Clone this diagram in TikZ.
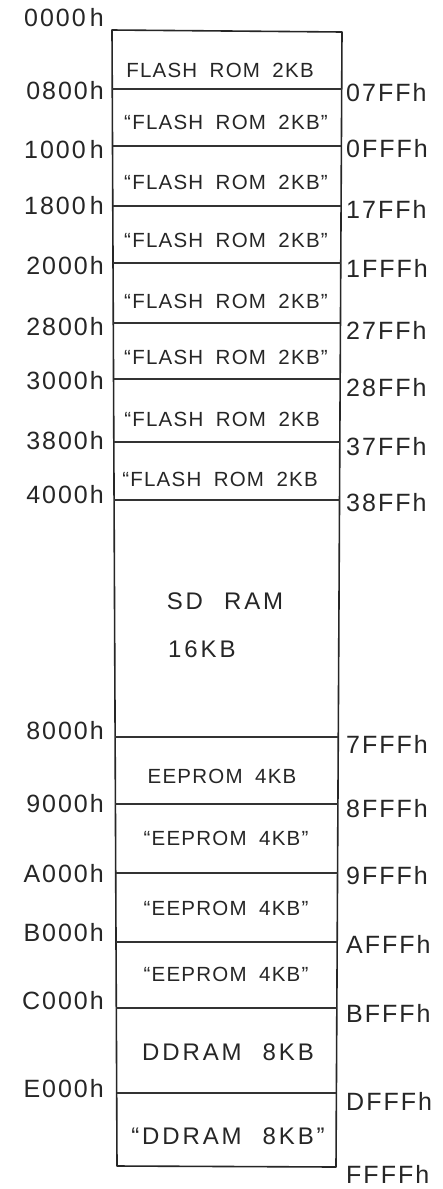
\documentclass[tikz,border=0pt]{standalone}
\usepackage{fontspec}
\setmainfont{Liberation Sans}
\newfontfamily\addrfam[LetterSpace=8]{Liberation Sans}
\newfontfamily\cellfam[LetterSpace=6,WordSpace=1.8]{Liberation Sans}
\newfontfamily\bigfam[LetterSpace=12,WordSpace=2.2]{Liberation Sans}
\begin{document}
\begin{tikzpicture}[x=1pt,y=-1pt,
  mem/.style={line width=1.6pt, draw=black!85, line join=round},
  divline/.style={line width=1.3pt, draw=black!80},
  addrL/.style={anchor=east, inner sep=0pt, font=\addrfam\fontsize{25}{28}\selectfont, text=black!85},
  addrR/.style={anchor=west, inner sep=0pt, font=\addrfam\fontsize{25}{28}\selectfont, text=black!85},
  cell/.style={inner sep=0pt, font=\cellfam\fontsize{20.5}{24}\selectfont, text=black!85},
  bigcell/.style={inner sep=0pt, font=\bigfam\fontsize{24}{28}\selectfont, text=black!85}]
\useasboundingbox (0,0) rectangle (443,1189);
\fill[white] (0,0) rectangle (443,1189);
% outer box
\coordinate (TL) at (112,30);
\coordinate (TR) at (342,32);
\coordinate (BR) at (336,1167);
\coordinate (BL) at (117,1166);
\draw[mem] (TL) -- (TR) -- (BR) -- (BL) -- cycle;
% dividing lines
\foreach \y in {89,146,206,263,323,379,442,500,737,804,873,942,1008,1093}{
  \draw[divline] ({112+(\y-30)*0.0044},\y) -- ({342-(\y-30)*0.0053},\y);
}
% left addresses
\foreach \t/\y [count=\i] in {0000\,h/18,0800h/91,1000\,h/150,1800\,h/206,2000h/266,2800h/327,3000h/381,3800h/441,4000h/495,8000h/731,9000h/804,A000h/874,B000h/933,C000h/1001,E000h/1089}{
  \node[addrL] (L\i) at (104,\y) {\t};
}
% right addresses
\foreach \t/\y [count=\i] in {07FFh/93,0FFFh/149,17FFh/209,1FFFh/268,27FFh/330,28FFh/388,37FFh/447,38FFh/503,7FFFh/744,8FFFh/809,9FFFh/876,AFFFh/944,BFFFh/1013,DFFFh/1101,FFFFh/1174}{
  \node[addrR] (R\i) at (346,\y) {\t};
}
% cell contents
\node[cell] (f1) at (220,70) {FLASH ROM 2KB};
\node[cell] (f2) at (226,122) {“FLASH ROM 2KB”};
\node[cell] (f3) at (226,182) {“FLASH ROM 2KB”};
\node[cell] (f4) at (226,240) {“FLASH ROM 2KB”};
\node[cell] (f5) at (226,301) {“FLASH ROM 2KB”};
\node[cell] (f6) at (226,357) {“FLASH ROM 2KB”};
\node[cell] (f7) at (222,419) {“FLASH ROM 2KB};
\node[cell] (f8) at (220,479) {“FLASH ROM 2KB};
\node[bigcell] (s1) at (225,601) {SD RAM};
\node[bigcell, anchor=west] (s2) at (168,649) {16KB};
\node[cell] (e1) at (222,776) {EEPROM 4KB};
\node[cell] (e2) at (226,838) {“EEPROM 4KB”};
\node[cell] (e3) at (226,908) {“EEPROM 4KB”};
\node[cell] (e4) at (226,974) {“EEPROM 4KB”};
\node[bigcell] (d1) at (228,1052) {DDRAM 8KB};
\node[bigcell] (d2) at (228,1136) {“DDRAM 8KB”};
\end{tikzpicture}
\end{document}
